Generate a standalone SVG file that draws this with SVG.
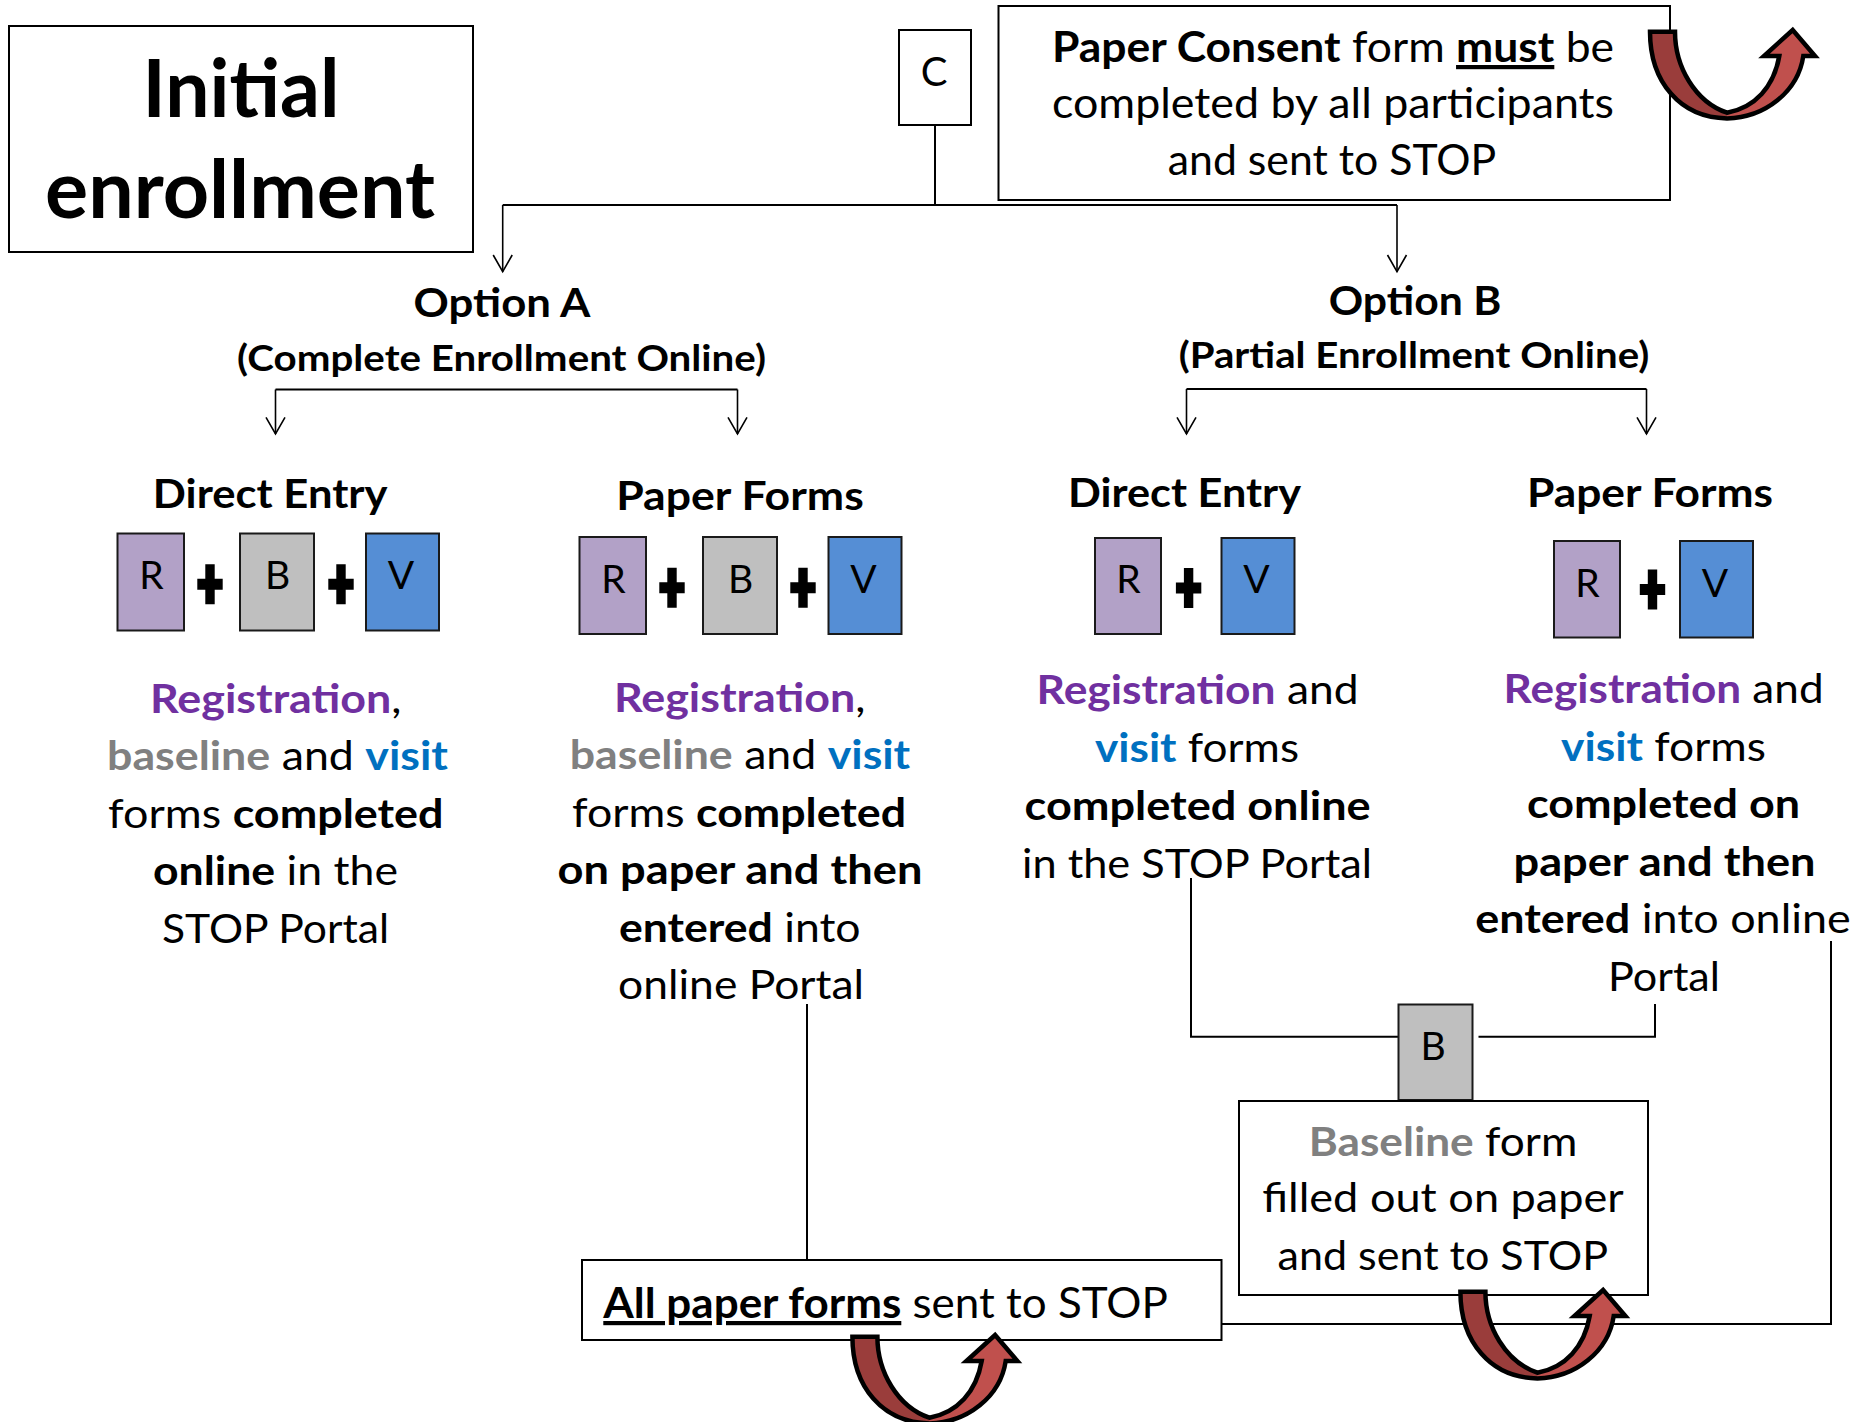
<svg xmlns="http://www.w3.org/2000/svg" xmlns:xlink="http://www.w3.org/1999/xlink" width="1875" height="1422" viewBox="0 0 1875 1422">
<style>
text{font-family:Lato,"Liberation Sans",sans-serif;fill:#000;}
.b{font-weight:700;}
.c{text-anchor:middle;}
.f41{font-size:41px;}
.f39{font-size:39px;}
.pu{fill:#7030A0;font-weight:700;}
.gy{fill:#808080;font-weight:700;}
.bl{fill:#0070C0;font-weight:700;}
.box{fill:#fff;stroke:#000;stroke-width:2;}
.ln{fill:none;stroke:#000;stroke-width:2;}
.ar{fill:none;stroke:#000;stroke-width:1.6;marker-end:url(#ah);}
.fr{fill:#B2A1C7;stroke:#1a1a1a;stroke-width:2;}
.fg{fill:#BFBFBF;stroke:#1a1a1a;stroke-width:2;}
.fv{fill:#558ED5;stroke:#1a1a1a;stroke-width:2;}
.plus{fill:#000;}
</style>
<defs>
<marker id="ah" markerUnits="userSpaceOnUse" viewBox="-19 -12 21 24" markerWidth="21" markerHeight="24" refX="0" refY="0" orient="auto" overflow="visible">
<path d="M-16.7,-9.5 L0,0 L-16.7,9.5" fill="none" stroke="#000" stroke-width="1.6"/>
</marker>
<path id="pl" d="M-4.7,-20 H4.7 V-5.5 H12.7 V5.5 H4.7 V20 H-4.7 V5.5 H-12.7 V-5.5 H-4.7 Z"/>
<g id="uturn">
<path d="M0,0 L25,0 C25,35 45,70 77,81 C105,76 124,55 129.3,24.3 L114,24.3 L142.7,-1.7 L165,24.3 L153.3,24.3 C148,60 115,86 77,86.7 C30,86 0,50 0,0 Z" fill="#C0504D"/>
<path d="M0,0 L25,0 C25,35 45,70 77,81 L77,86.7 C30,86 0,50 0,0 Z" fill="#9A3D3B"/>
<path d="M0,0 L25,0 C25,35 45,70 77,81 C105,76 124,55 129.3,24.3 L114,24.3 L142.7,-1.7 L165,24.3 L153.3,24.3 C148,60 115,86 77,86.7 C30,86 0,50 0,0 Z" fill="none" stroke="#000" stroke-width="4.5" stroke-linejoin="miter"/>
</g>
</defs>
<rect width="1875" height="1422" fill="#fff"/>

<g id="connectors">
<path class="ln" d="M935,125 V205"/>
<path class="ln" d="M502.7,205 H1397" stroke-width="2.4"/>
<path class="ar" d="M502.7,205 V271.7"/>
<path class="ar" d="M1397,205 V271.7"/>
<path class="ln" d="M275.5,389.5 H737.5"/>
<path class="ar" d="M275.5,389.5 V434"/>
<path class="ar" d="M737.5,389.5 V434"/>
<path class="ln" d="M1186.5,389 H1646.5"/>
<path class="ar" d="M1186.5,389 V434"/>
<path class="ar" d="M1646.5,389 V434"/>
<path class="ln" d="M807,1004 V1260"/>
<path class="ln" d="M1191,878 V1036.7 H1398.5"/>
<path class="ln" d="M1655,1004 V1036.7 H1478.5"/>
<path class="ln" d="M1831,941 V1324 H1221.5"/>
</g>

<g id="initial-enrollment">
<rect class="box" x="9" y="26" width="464" height="226" stroke-width="2.5"/>
<text class="b c" x="241" y="117" font-size="80" textLength="197" lengthAdjust="spacingAndGlyphs">Initial</text>
<text class="b c" x="240" y="218" font-size="80" textLength="390" lengthAdjust="spacingAndGlyphs">enrollment</text>
</g>

<g id="node-c">
<rect class="box" x="899" y="30" width="72" height="95"/>
<text class="c" x="934" y="86" font-size="40">C</text>
</g>

<g id="consent">
<rect class="box" x="998.5" y="6" width="671.5" height="194"/>
<text class="c" x="1333" y="62" font-size="42" textLength="562" lengthAdjust="spacingAndGlyphs"><tspan class="b">Paper Consent</tspan> form <tspan class="b" text-decoration="underline">must</tspan> be</text>
<text class="c" x="1333" y="118" font-size="42" textLength="562" lengthAdjust="spacingAndGlyphs">completed by all participants</text>
<text class="c" x="1332" y="175" font-size="42" textLength="328.5" lengthAdjust="spacingAndGlyphs">and sent to STOP</text>
</g>

<g id="option-a">
<text class="b c" x="502" y="317" font-size="41" textLength="177" lengthAdjust="spacingAndGlyphs">Option A</text>
<text class="b c" x="501.5" y="370.5" font-size="36" textLength="529" lengthAdjust="spacingAndGlyphs">(Complete Enrollment Online)</text>
</g>

<g id="option-b">
<text class="b c" x="1415" y="315" font-size="41" textLength="172.6" lengthAdjust="spacingAndGlyphs">Option B</text>
<text class="b c" x="1414" y="368.3" font-size="36" textLength="470.6" lengthAdjust="spacingAndGlyphs">(Partial Enrollment Online)</text>
</g>

<g id="a-direct-entry">
<text class="b c" x="270.2" y="508" font-size="40" textLength="234.8" lengthAdjust="spacingAndGlyphs">Direct Entry</text>
<rect class="fr" x="117.5" y="533.5" width="66.5" height="97"/>
<rect class="fg" x="240" y="533.5" width="74" height="97"/>
<rect class="fv" x="366" y="533.5" width="73" height="97"/>
<text class="c f39" x="151.5" y="589">R</text>
<text class="c f39" x="277.5" y="589">B</text>
<text class="c f39" x="401" y="589">V</text>
<use href="#pl" x="210" y="584.3"/>
<use href="#pl" x="341" y="584.3"/>
<text class="c f41" x="275.8" y="712.5" textLength="251.5" lengthAdjust="spacingAndGlyphs"><tspan class="pu">Registration</tspan>,</text>
<text class="c f41" x="277.5" y="770" textLength="341" lengthAdjust="spacingAndGlyphs"><tspan class="gy">baseline</tspan> and <tspan class="bl">visit</tspan></text>
<text class="c f41" x="275.8" y="827.5" textLength="335.5" lengthAdjust="spacingAndGlyphs">forms <tspan class="b">completed</tspan></text>
<text class="c f41" x="275.5" y="885" textLength="245" lengthAdjust="spacingAndGlyphs"><tspan class="b">online</tspan> in the</text>
<text class="c f41" x="275.5" y="942.5" textLength="227" lengthAdjust="spacingAndGlyphs">STOP Portal</text>
</g>

<g id="a-paper-forms">
<text class="b c" x="740" y="510" font-size="40" textLength="247.6" lengthAdjust="spacingAndGlyphs">Paper Forms</text>
<rect class="fr" x="579.5" y="537" width="66.5" height="97"/>
<rect class="fg" x="703" y="537" width="74" height="97"/>
<rect class="fv" x="828.5" y="537" width="73" height="97"/>
<text class="c f39" x="613.5" y="592.5">R</text>
<text class="c f39" x="740.5" y="592.5">B</text>
<text class="c f39" x="863.5" y="592.5">V</text>
<use href="#pl" x="672" y="587.8"/>
<use href="#pl" x="803" y="587.8"/>
<text class="c f41" x="739.7" y="711.5" textLength="251.4" lengthAdjust="spacingAndGlyphs"><tspan class="pu">Registration</tspan>,</text>
<text class="c f41" x="740" y="769" textLength="340.5" lengthAdjust="spacingAndGlyphs"><tspan class="gy">baseline</tspan> and <tspan class="bl">visit</tspan></text>
<text class="c f41" x="739" y="826.5" textLength="334" lengthAdjust="spacingAndGlyphs">forms <tspan class="b">completed</tspan></text>
<text class="b c f41" x="740" y="884" textLength="364.8" lengthAdjust="spacingAndGlyphs">on paper and then</text>
<text class="c f41" x="739.8" y="941.5" textLength="241.6" lengthAdjust="spacingAndGlyphs"><tspan class="b">entered</tspan> into</text>
<text class="c f41" x="741" y="999" textLength="246" lengthAdjust="spacingAndGlyphs">online Portal</text>
</g>

<g id="b-direct-entry">
<text class="b c" x="1184.5" y="507" font-size="40" textLength="233" lengthAdjust="spacingAndGlyphs">Direct Entry</text>
<rect class="fr" x="1095" y="538" width="66" height="96"/>
<rect class="fv" x="1221.5" y="538" width="73" height="96"/>
<text class="c f39" x="1128.5" y="593">R</text>
<text class="c f39" x="1256.5" y="593">V</text>
<use href="#pl" x="1188.6" y="588"/>
<text class="c f41" x="1197.6" y="704" textLength="322" lengthAdjust="spacingAndGlyphs"><tspan class="pu">Registration</tspan> and</text>
<text class="c f41" x="1197" y="761.5" textLength="204" lengthAdjust="spacingAndGlyphs"><tspan class="bl">visit</tspan> forms</text>
<text class="b c f41" x="1197.6" y="819.5" textLength="346" lengthAdjust="spacingAndGlyphs">completed online</text>
<text class="c f41" x="1197" y="877.5" textLength="350" lengthAdjust="spacingAndGlyphs">in the STOP Portal</text>
</g>

<g id="b-paper-forms">
<text class="b c" x="1650" y="507" font-size="40" textLength="246" lengthAdjust="spacingAndGlyphs">Paper Forms</text>
<rect class="fr" x="1554" y="541" width="66" height="96.5"/>
<rect class="fv" x="1680" y="541" width="73" height="96.5"/>
<text class="c f39" x="1587.5" y="596.5">R</text>
<text class="c f39" x="1715" y="596.5">V</text>
<use href="#pl" x="1652.5" y="589.5"/>
<text class="c f41" x="1663.6" y="703" textLength="320" lengthAdjust="spacingAndGlyphs"><tspan class="pu">Registration</tspan> and</text>
<text class="c f41" x="1663.5" y="760.5" textLength="205" lengthAdjust="spacingAndGlyphs"><tspan class="bl">visit</tspan> forms</text>
<text class="b c f41" x="1663.5" y="818" textLength="273" lengthAdjust="spacingAndGlyphs">completed on</text>
<text class="b c f41" x="1664.5" y="875.5" textLength="302" lengthAdjust="spacingAndGlyphs">paper and then</text>
<text class="c f41" x="1663" y="933" textLength="375.5" lengthAdjust="spacingAndGlyphs"><tspan class="b">entered</tspan> into online</text>
<text class="c f41" x="1664" y="990.5" textLength="112" lengthAdjust="spacingAndGlyphs">Portal</text>
</g>

<g id="node-b">
<rect class="fg" x="1398.5" y="1004.5" width="74" height="95.5"/>
<text class="c f39" x="1433" y="1059.5">B</text>
</g>

<g id="baseline-box">
<rect class="box" x="1239" y="1101" width="409" height="194"/>
<text class="c f41" x="1443" y="1155.7" textLength="268.5" lengthAdjust="spacingAndGlyphs"><tspan class="gy">Baseline</tspan> form</text>
<text class="c f41" x="1443" y="1212" textLength="361.6" lengthAdjust="spacingAndGlyphs">filled out on paper</text>
<text class="c f41" x="1442.8" y="1270" textLength="330.5" lengthAdjust="spacingAndGlyphs">and sent to STOP</text>
</g>

<g id="all-paper-forms">
<rect class="box" x="582" y="1260" width="639.5" height="80"/>
<text x="603.3" y="1318" font-size="42" textLength="564.7" lengthAdjust="spacingAndGlyphs"><tspan class="b" text-decoration="underline">All paper forms</tspan> sent to STOP</text>
</g>

<g id="send-arrows">
<use href="#uturn" x="1650" y="31.7"/>
<use href="#uturn" x="852.4" y="1336.7"/>
<use href="#uturn" x="1460.4" y="1291.7"/>
</g>
</svg>
